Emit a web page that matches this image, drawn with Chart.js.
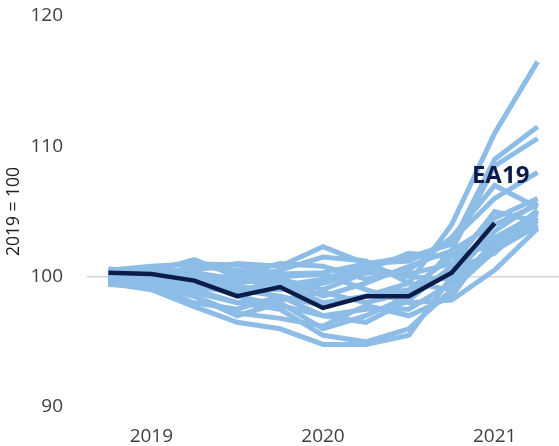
<!DOCTYPE html>
<html>
<head>
<meta charset="utf-8">
<script src="https://cdn.jsdelivr.net/npm/chart.js@4.4.1/dist/chart.umd.min.js"></script>
<style>
  html, body { margin: 0; padding: 0; background: #fff; }
  #wrap { width: 559px; height: 446px; position: relative; }
</style>
</head>
<body>
<div id="wrap"><canvas id="lineChart"></canvas></div>
<script>
// quarters, 2018-Q4 .. 2021-Q2
const categories = ["2018-Q4", "2019-Q1", "2019-Q2", "2019-Q3", "2019-Q4", "2020-Q1",
                    "2020-Q2", "2020-Q3", "2020-Q4", "2021-Q1", "2021-Q2"];

const yTicks = [90, 100, 110, 120];

// euro area aggregate (ends one quarter earlier)
const ea19 = [100.3, 100.2, 99.7, 98.5, 99.2, 97.6, 98.5, 98.5, 100.3, 104.1];

// individual countries
const c01 = [100.2, 100.4, 101.3, 100.0, 99.5, 98.0, 98.5, 99.5, 104.0, 111.0, 116.5];
const c02 = [100.5, 100.8, 101.0, 100.9, 100.2, 100.3, 101.0, 101.5, 102.5, 109.0, 111.5];
const c03 = [99.8, 99.5, 98.5, 97.0, 98.0, 96.0, 97.0, 98.5, 102.0, 108.5, 110.6];
const c04 = [100.0, 100.3, 100.5, 101.0, 100.8, 102.3, 101.0, 101.2, 102.8, 106.0, 108.0];
const c05 = [99.5, 99.0, 97.7, 96.5, 96.0, 94.8, 94.8, 95.5, 100.0, 103.5, 105.7];
const c06 = [100.6, 100.2, 99.8, 99.0, 98.5, 97.0, 97.5, 97.5, 99.5, 102.5, 105.1];
const c07 = [99.9, 99.7, 99.0, 98.0, 97.5, 95.5, 95.0, 96.0, 99.0, 102.0, 104.5];
const c08 = [100.3, 100.5, 100.0, 99.5, 100.0, 100.2, 99.0, 98.0, 98.2, 100.5, 103.7];
const c09 = [99.4, 99.2, 98.0, 97.5, 98.5, 97.8, 98.5, 99.0, 101.5, 104.5, 106.0];
const c10 = [100.1, 100.0, 100.8, 100.5, 99.8, 99.0, 100.3, 100.2, 101.0, 103.0, 104.0];
const c11 = [99.7, 99.5, 99.2, 98.8, 99.8, 98.5, 99.5, 100.8, 102.0, 104.0, 105.5];
const c12 = [100.4, 100.6, 100.3, 99.8, 100.5, 101.5, 101.2, 99.5, 99.0, 102.0, 103.9];
const c13 = [99.6, 99.3, 98.5, 97.2, 96.8, 96.2, 97.8, 97.0, 98.5, 103.0, 104.8];
const c14 = [100.0, 100.1, 99.5, 100.2, 101.0, 100.8, 99.8, 100.5, 103.0, 107.0, 105.3];
const c15 = [99.8, 99.9, 99.7, 98.5, 97.8, 97.0, 96.5, 98.2, 100.8, 105.0, 104.2];
const c16 = [100.2, 100.0, 99.5, 99.2, 99.0, 99.5, 100.5, 101.8, 101.5, 102.5, 103.8];
const c17 = [99.5, 99.4, 98.8, 98.0, 98.2, 98.8, 98.0, 98.8, 100.5, 101.8, 105.0];
const c18 = [100.0, 100.3, 100.0, 99.8, 99.3, 99.8, 100.8, 100.0, 99.8, 102.2, 104.3];

const countries = [c01, c02, c03, c04, c05, c06, c07, c08, c09, c10, c11, c12, c13, c14, c15, c16, c17, c18];

const LIGHT = "#8dbde6";
const NAVY = "#0c1c48";

const datasets = countries.map(function (vals) {
    return {
        data: vals,
        borderColor: LIGHT,
        borderWidth: 5,
        pointRadius: 0,
        tension: 0,
        order: 1
    };
});

datasets.push({
    label: "EA19",
    data: ea19,
    borderColor: NAVY,
    borderWidth: 4.5,
    pointRadius: 0,
    tension: 0,
    order: -1
});

// label next to the end of the EA19 line
const eaLabel = {
    id: "eaLabel",
    afterDatasetsDraw(chart) {
        const { ctx, scales } = chart;
        const x = scales.x.getPixelForValue(9) + 6;
        const y = scales.y.getPixelForValue(107.7);
        ctx.save();
        ctx.font = "bold 24px 'Open Sans', sans-serif";
        ctx.fillStyle = NAVY;
        ctx.textAlign = "center";
        ctx.textBaseline = "middle";
        ctx.fillText("EA19", x, y);
        ctx.restore();
    }
};

new Chart(document.getElementById("lineChart").getContext("2d"), {
    type: "line",
    data: { labels: categories, datasets: datasets },
    options: {
        responsive: true,
        maintainAspectRatio: false,
        animation: false,
        layout: { padding: { top: 16, right: 0, left: 0, bottom: 0 } },
        plugins: {
            legend: { display: false },
            tooltip: { enabled: false }
        },
        scales: {
            x: {
                offset: true,
                border: { display: false },
                grid: { display: false, drawTicks: false },
                afterFit: function (axis) { axis.height = 39; },
                ticks: {
                    autoSkip: false,
                    maxRotation: 0,
                    padding: 18,
                    color: "#404040",
                    font: { family: "'Open Sans', sans-serif", size: 19 },
                    callback: function (value) {
                        const lab = categories[value];
                        return lab.endsWith("Q1") ? lab.slice(0, 4) : "";
                    }
                }
            },
            y: {
                min: 90,
                max: 120,
                border: { display: false },
                afterFit: function (axis) {
                    axis.width = 87;
                    axis.paddingTop = 0;
                    axis.paddingBottom = 0;
                },
                afterBuildTicks: function (axis) {
                    axis.ticks = yTicks.map(function (v) { return { value: v }; });
                },
                grid: {
                    drawTicks: false,
                    lineWidth: 1.5,
                    color: function (c) {
                        return c.tick && c.tick.value === 100 ? "#d4d4d4" : "rgba(0,0,0,0)";
                    }
                },
                ticks: {
                    padding: 24,
                    color: "#404040",
                    font: { family: "'Open Sans', sans-serif", size: 19 }
                },
                title: {
                    display: true,
                    text: "2019 = 100",
                    color: "#222",
                    padding: { top: 4, bottom: 0 },
                    font: { family: "'Open Sans', sans-serif", size: 17.5 }
                }
            }
        }
    },
    plugins: [eaLabel]
});
</script>
</body>
</html>
